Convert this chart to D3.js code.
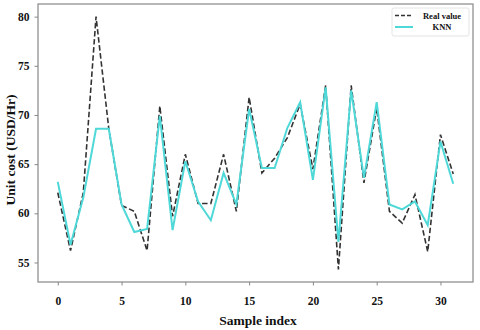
<!DOCTYPE html>
<html>
<head>
<meta charset="utf-8">
<script src="https://cdn.jsdelivr.net/npm/d3@7"></script>
<style>
  html, body { margin: 0; padding: 0; background: #fff; }
  svg { display: block; }
  text { font-family: "Liberation Serif", "Times New Roman", serif; font-weight: bold; fill: #111; }
</style>
</head>
<body>
<svg id="chart" width="480" height="330"></svg>
<script>
const sampleIndex = d3.range(0, 32);
const realValue = [62.1, 56.2, 62.1, 80.0, 68.6, 60.8, 60.2, 56.2, 70.9, 59.7,
                   66.0, 61.0, 61.0, 66.0, 60.2, 71.8, 64.1, 65.6, 67.7, 71.1,
                   64.5, 73.0, 54.3, 73.0, 63.1, 70.7, 60.2, 59.0, 61.9, 56.1,
                   68.0, 64.0];
const knnValue  = [63.2, 56.8, 61.6, 68.6, 68.6, 60.9, 58.1, 58.4, 69.9, 58.3,
                   65.3, 61.2, 59.3, 64.1, 60.9, 70.6, 64.6, 64.6, 68.7, 71.3,
                   63.4, 72.8, 57.1, 72.5, 63.6, 71.3, 60.9, 60.4, 61.2, 58.8,
                   67.3, 63.0];
const xTicks = [0, 5, 10, 15, 20, 25, 30];
const yTicks = [55, 60, 65, 70, 75, 80];
const seriesNames = ["Real value", "KNN"];

const svg = d3.select("#chart");
const L = 38, R = 473, T = 4, B = 282;

const xMin = 0, xMax = 31, xPad = (xMax - xMin) * 0.05;
const allVals = realValue.concat(knnValue);
const yLo = d3.min(allVals), yHi = d3.max(allVals), yPad = (yHi - yLo) * 0.05;

const x = d3.scaleLinear().domain([xMin - xPad, xMax + xPad]).range([L, R]);
const y = d3.scaleLinear().domain([yLo - yPad, yHi + yPad]).range([B, T]);

// frame
svg.append("rect")
  .attr("x", L).attr("y", T).attr("width", R - L).attr("height", B - T)
  .attr("fill", "none").attr("stroke", "#888").attr("stroke-width", 1.2);

// axes
const xAxis = svg.append("g").attr("transform", `translate(0,${B})`)
  .call(d3.axisBottom(x).tickValues(xTicks).tickSize(3.5).tickPadding(11).tickFormat(d3.format("d")));
const yAxis = svg.append("g").attr("transform", `translate(${L},0)`)
  .call(d3.axisLeft(y).tickValues(yTicks).tickSize(3.5).tickPadding(5).tickFormat(d3.format("d")));
[xAxis, yAxis].forEach(g => {
  g.select(".domain").remove();
  g.selectAll(".tick line").attr("stroke", "#888").attr("stroke-width", 1);
  g.selectAll(".tick text").attr("font-size", 11.5).attr("fill", "#111")
    .style("font-family", '"Liberation Serif", serif').style("font-weight", "bold");
});

// lines
const line = vals => d3.line().x((d, i) => x(sampleIndex[i])).y(d => y(d))(vals);
svg.append("path").attr("d", line(realValue))
  .attr("fill", "none").attr("stroke", "#333").attr("stroke-width", 1.6)
  .attr("stroke-dasharray", "5.5,2.6");
svg.append("path").attr("d", line(knnValue))
  .attr("fill", "none").attr("stroke", "#4fd8d8").attr("stroke-width", 2)
  .attr("stroke-linejoin", "miter");

// axis titles
svg.append("text").attr("x", 258).attr("y", 325)
  .attr("text-anchor", "middle").attr("font-size", 13.5).text("Sample index");
svg.append("text").attr("transform", `translate(15,150) rotate(-90)`)
  .attr("text-anchor", "middle").attr("font-size", 13.5).text("Unit cost (USD/Hr)");

// legend
const lg = svg.append("g");
lg.append("rect").attr("x", 392).attr("y", 8).attr("width", 77).attr("height", 28)
  .attr("rx", 2).attr("fill", "#fff").attr("stroke", "#ddd").attr("stroke-width", 0.8);
lg.append("line").attr("x1", 395).attr("x2", 413).attr("y1", 15.5).attr("y2", 15.5)
  .attr("stroke", "#333").attr("stroke-width", 1.6).attr("stroke-dasharray", "4,2");
lg.append("line").attr("x1", 395).attr("x2", 413).attr("y1", 27).attr("y2", 27)
  .attr("stroke", "#4fd8d8").attr("stroke-width", 2);
lg.append("text").attr("x", 442).attr("y", 19).attr("text-anchor", "middle")
  .attr("font-size", 8.5).text(seriesNames[0]);
lg.append("text").attr("x", 442).attr("y", 30).attr("text-anchor", "middle")
  .attr("font-size", 8.5).text(seriesNames[1]);
</script>
</body>
</html>
